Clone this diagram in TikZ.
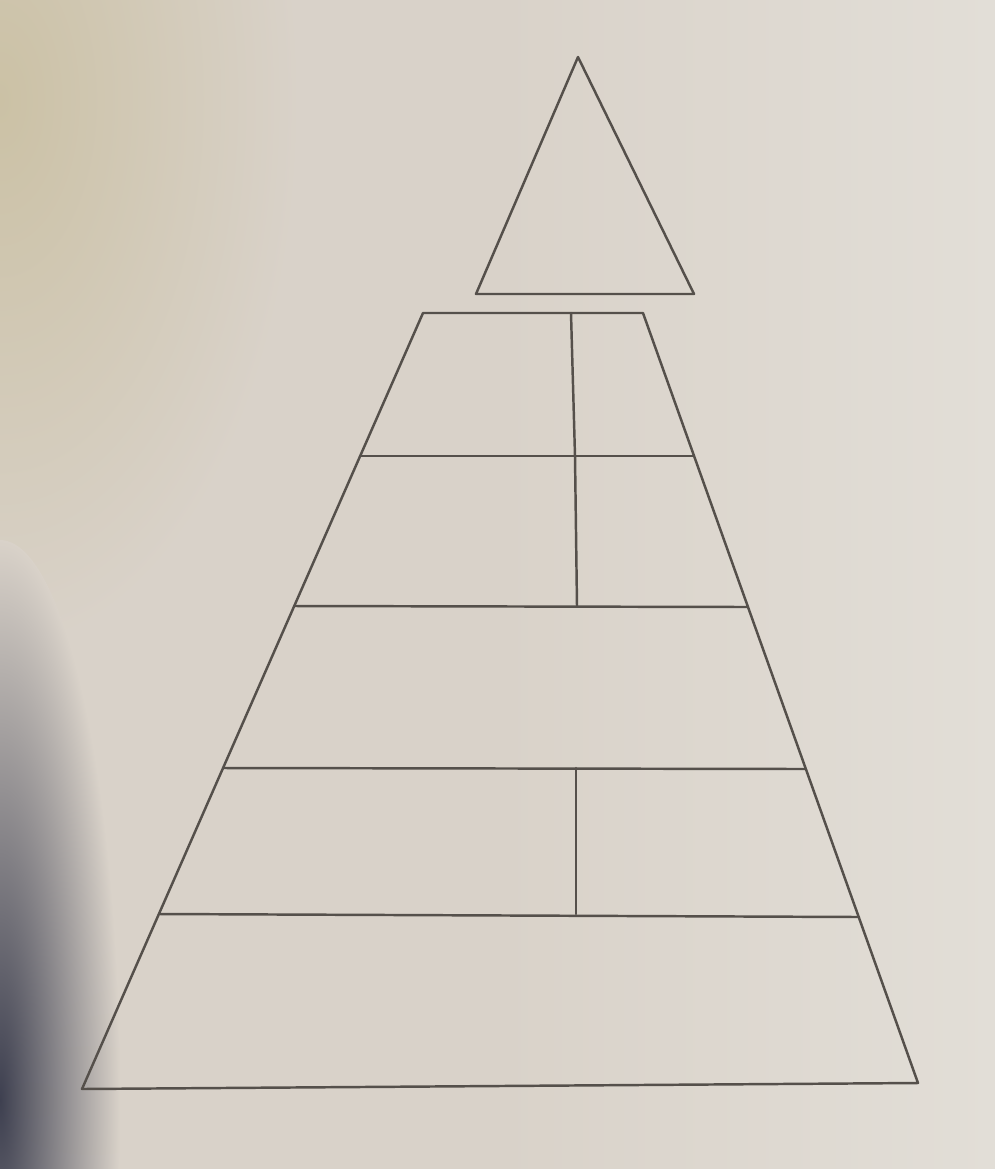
\documentclass[tikz,border=0pt]{standalone}
\definecolor{paper}{RGB}{217,210,201}
\definecolor{papertl}{RGB}{203,193,165}
\definecolor{paperr}{RGB}{226,222,215}
\definecolor{ink}{RGB}{85,80,75}
\definecolor{shadow}{RGB}{62,64,80}
\tikzset{pen/.style={draw=ink,line width=0.7pt,line cap=round,line join=round}}
\begin{document}
\begin{tikzpicture}[x=0.01cm,y=-0.01cm]
\useasboundingbox (0,0) rectangle (995,1169);
\begin{scope}
\clip (0,0) rectangle (995,1169);
\fill[paper] (0,0) rectangle (995,1169);
\shade[left color=paper,right color=paperr] (500,0) rectangle (995,1169);
\shade[inner color=papertl,outer color=paper] (0,100) ellipse (300 and 550);
\shade[inner color=shadow,outer color=paper] (0,1100) ellipse (120 and 560);
\end{scope}
% top triangle
\coordinate (apex) at (578,57);
\coordinate (tl) at (476,294);
\coordinate (tr) at (694,294);
\draw[pen] (apex) -- (tl) -- (tr) -- cycle;
% pyramid body
\coordinate (A) at (423,313);
\coordinate (B) at (643,313);
\coordinate (C) at (918,1083);
\coordinate (D) at (82,1089);
\draw[pen] (A) -- (B) -- (C) -- (D) -- cycle;
% horizontal dividers
\coordinate (h1l) at (360,456); \coordinate (h1r) at (694,456);
\coordinate (h2l) at (294,606); \coordinate (h2r) at (748,607);
\coordinate (h3l) at (223,768); \coordinate (h3r) at (805,769);
\coordinate (h4l) at (159,914); \coordinate (h4r) at (859,917);
\draw[pen] (h1l) -- (h1r);
\draw[pen] (h2l) -- (h2r);
\draw[pen] (h3l) -- (h3r);
\draw[pen] (h4l) -- (h4r);
% vertical dividers
\coordinate (v1t) at (571,313); \coordinate (v1m) at (575,456); \coordinate (v1b) at (577,606);
\coordinate (v2t) at (576,768); \coordinate (v2b) at (576,914);
\draw[pen] (v1t) -- (v1m) -- (v1b);
\draw[pen] (v2t) -- (v2b);
\end{tikzpicture}
\end{document}
